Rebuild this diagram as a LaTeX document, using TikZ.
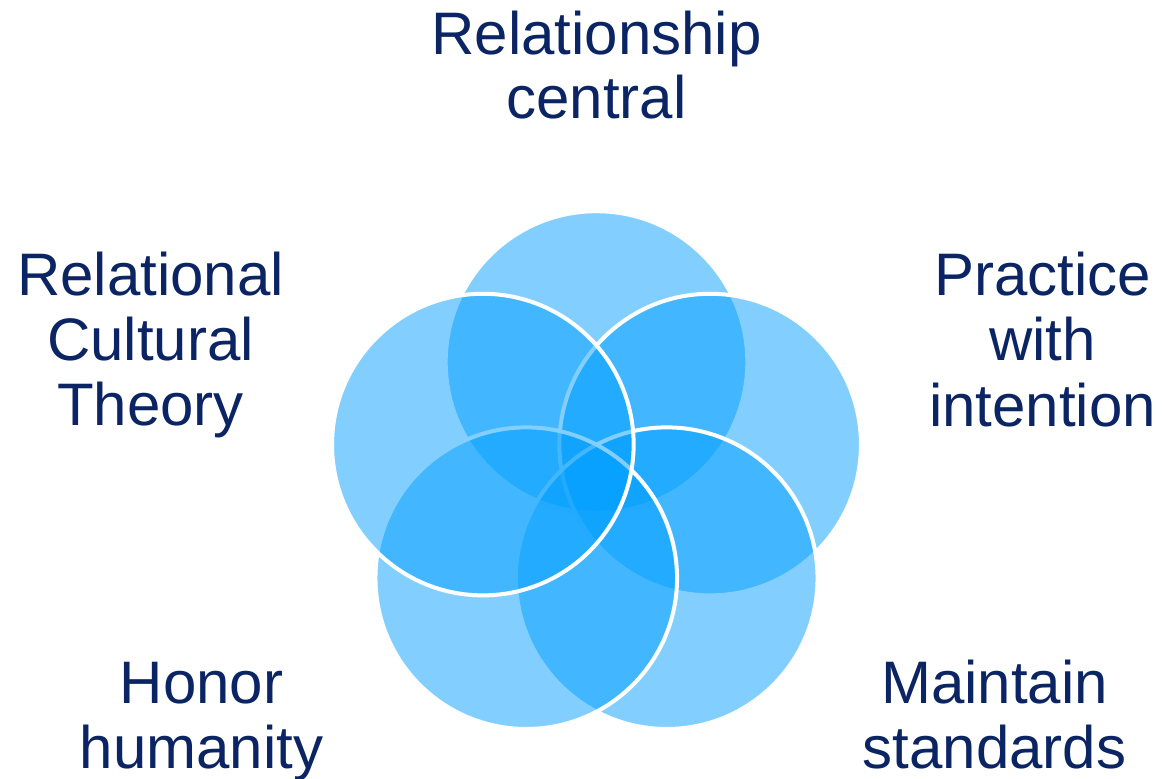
\documentclass[tikz,border=0pt]{standalone}
\usepackage{fontspec}
\setmainfont{Liberation Sans}
\usetikzlibrary{calc}
\definecolor{navy}{RGB}{11,36,99}
\definecolor{discblue}{RGB}{0,158,255}
\begin{document}
\begin{tikzpicture}[x=1pt,y=-1pt,
  disc/.style={fill=discblue, fill opacity=0.49, draw=white, draw opacity=1, line width=4pt},
  txt/.style={text=navy, font=\fontsize{60}{65}\selectfont, anchor=base, inner sep=0pt}]
\useasboundingbox (0,0) rectangle (1165,779);

% centres of the five discs, on a regular pentagon
\coordinate (O) at (596.5,481.5);
\foreach \name/\ang in {T/-90, R/-18, BR/54, BL/126, L/198}
  \coordinate (\name) at ($(O)+(\ang:119.5)$);

% discs, each painted with its white rim, later ones over earlier ones
\foreach \name in {T, R, BR, BL, L}
  \path[disc] (\name) circle[radius=150.8];

% labels
\node[txt] (rel1) at (596.5,54)    {Relationship};
\node[txt] (rel2) at (596.5,118.5) {central};
\node[txt] (rct1) at (150.5,295)   {Relational};
\node[txt] (rct2) at (150.5,360)   {Cultural};
\node[txt] (rct3) at (150.5,425)   {Theory};
\node[txt] (pwi1) at (1042.5,295)  {Practice};
\node[txt] (pwi2) at (1042.5,360.5){with};
\node[txt] (pwi3) at (1042.5,426)  {intention};
\node[txt] (hh1)  at (201.5,703)   {Honor};
\node[txt] (hh2)  at (201.5,768)   {humanity};
\node[txt] (ms1)  at (994.5,703)   {Maintain};
\node[txt] (ms2)  at (994.5,768)   {standards};
\end{tikzpicture}
\end{document}
